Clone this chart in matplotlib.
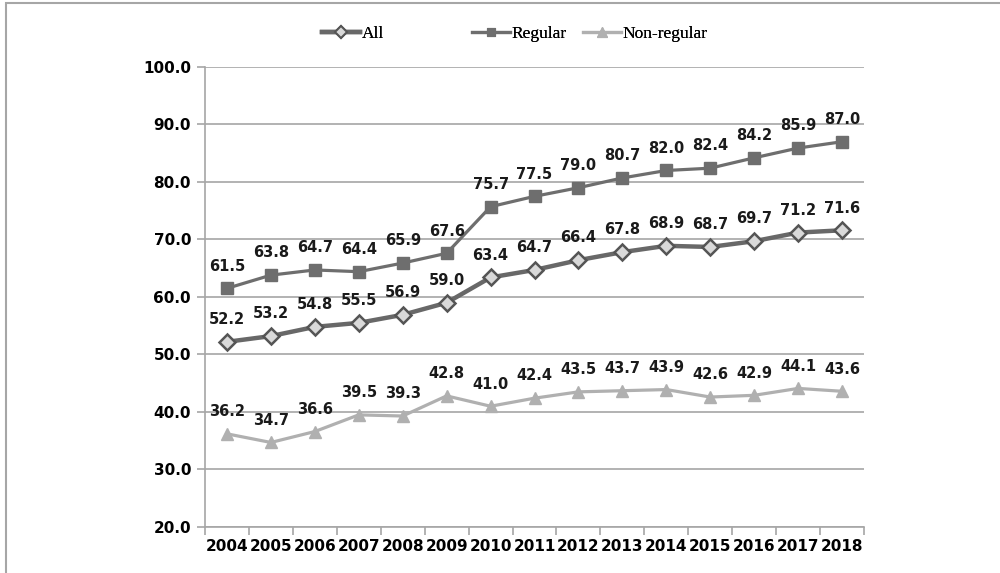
import matplotlib
matplotlib.use("Agg")
import matplotlib.pyplot as plt
from matplotlib.lines import Line2D
from matplotlib.patches import Rectangle

years = ["2004", "2005", "2006", "2007", "2008", "2009", "2010", "2011",
         "2012", "2013", "2014", "2015", "2016", "2017", "2018"]
all_workers = [52.2, 53.2, 54.8, 55.5, 56.9, 59.0, 63.4, 64.7,
               66.4, 67.8, 68.9, 68.7, 69.7, 71.2, 71.6]
regular = [61.5, 63.8, 64.7, 64.4, 65.9, 67.6, 75.7, 77.5,
           79.0, 80.7, 82.0, 82.4, 84.2, 85.9, 87.0]
non_regular = [36.2, 34.7, 36.6, 39.5, 39.3, 42.8, 41.0, 42.4,
               43.5, 43.7, 43.9, 42.6, 42.9, 44.1, 43.6]
y_ticks = [20, 30, 40, 50, 60, 70, 80, 90, 100]

fig = plt.figure(figsize=(10, 5.73), dpi=100)
fig.patch.set_facecolor("white")
# thin frame around the chart area
fig.add_artist(Rectangle((0.006, -0.05), 1.2, 1.045, transform=fig.transFigure,
                         fill=False, edgecolor="#a6a6a6", linewidth=1.5))

ax = fig.add_axes([0.205, 0.0803, 0.659, 0.8028])
x = list(range(len(years)))

grid_col = "#a6a6a6"
styles = {
    "All": dict(color="#686868", lw=3.2, marker="D", ms=8.5,
                mfc="#d9d9d9", mec="#555555", mew=1.8),
    "Regular": dict(color="#6e6e6e", lw=2.3, marker="s", ms=8.5,
                    mfc="#6e6e6e", mec="#6e6e6e", mew=1),
    "Non-regular": dict(color="#b0b0b0", lw=2.3, marker="^", ms=9,
                        mfc="#b0b0b0", mec="#b0b0b0", mew=1),
}
series = [("All", all_workers), ("Regular", regular), ("Non-regular", non_regular)]

for name, vals in series:
    st = styles[name]
    ax.plot(x, vals, color=st["color"], lw=st["lw"], marker=st["marker"],
            ms=st["ms"], mfc=st["mfc"], mec=st["mec"], mew=st["mew"],
            solid_joinstyle="round", zorder=3)
    for xi, v in zip(x, vals):
        ax.annotate(f"{v:.1f}", (xi, v), xytext=(0, 16), textcoords="offset points",
                    ha="center", va="center", fontsize=10.5, fontweight="bold",
                    color="#1a1a1a", zorder=4)

ax.set_xlim(-0.5, len(years) - 0.5)
ax.set_ylim(20, 100)
ax.set_yticks(y_ticks)
ax.set_yticklabels([f"{t:.1f}" for t in y_ticks], fontsize=11, fontweight="bold")
ax.yaxis.grid(True, color=grid_col, lw=1.2)
ax.set_axisbelow(True)
ax.tick_params(axis="y", length=6, width=1.2, color=grid_col, pad=4)

ax.set_xticks([i - 0.5 for i in range(len(years) + 1)], minor=False)
ax.set_xticklabels([])
ax.set_xticks(x, minor=True)
ax.set_xticklabels(years, minor=True, fontsize=11, fontweight="bold")
ax.tick_params(axis="x", which="major", length=6, width=1.2, color=grid_col)
ax.tick_params(axis="x", which="minor", length=0, pad=9)

for side in ("top", "right"):
    ax.spines[side].set_visible(False)
for side in ("left", "bottom"):
    ax.spines[side].set_color(grid_col)
    ax.spines[side].set_linewidth(1.2)

# legend entries placed individually across the top
legend_pos = [0.322, 0.472, 0.583]
for (name, _), lx in zip(series, legend_pos):
    st = styles[name]
    h = Line2D([], [], color=st["color"], lw=st["lw"], marker=st["marker"],
               ms=st["ms"] * 0.75, mfc=st["mfc"], mec=st["mec"], mew=st["mew"] * 0.8)
    leg = fig.legend([h], [name], loc="center left", bbox_to_anchor=(lx, 0.941),
                     frameon=False, handlelength=2.2, handletextpad=0.1,
                     borderpad=0, borderaxespad=0,
                     prop={"family": "Liberation Serif", "size": 12.5})
    fig.add_artist(leg)

fig.savefig("out.png", dpi=100, facecolor="white")
